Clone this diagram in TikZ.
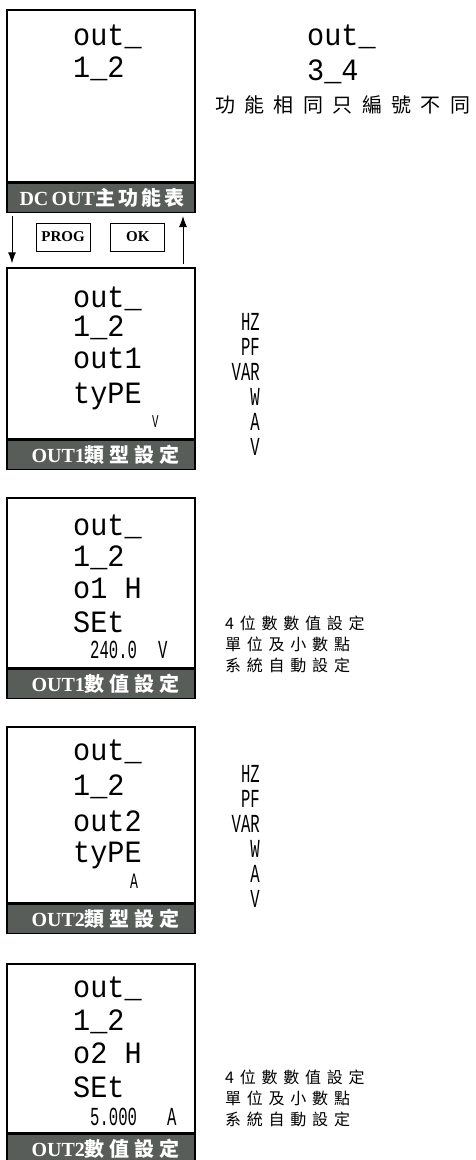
\documentclass[tikz,border=0pt]{standalone}
\usepackage{fontspec}
\usepackage{xcolor}
\setmainfont{Liberation Serif}
\newfontfamily\cjkfont{Noto Sans CJK TC}
\newfontfamily\lcdfont{Liberation Mono}[FakeStretch=0.92]
\newfontfamily\lcdnarrow{Liberation Mono}[FakeStretch=0.6]
\usepackage{tikz}
\usetikzlibrary{arrows.meta, positioning}

\definecolor{bandgray}{RGB}{88,93,90}
\newcommand{\bandcjk}[2][25]{{\cjkfont\bfseries\addfontfeature{LetterSpace=#1}#2}}

\begin{document}
\begin{tikzpicture}[
    x=1pt, y=-1pt,
    screen/.style={
      draw,
      line width=1.3pt,
      fill=white,
      minimum width=188pt,
      inner sep=0pt
    },
    band/.style={
      draw,
      line width=1.3pt,
      fill=bandgray,
      minimum width=188pt,
      minimum height=29pt,
      inner sep=0pt
    },
    bandtext/.style={
      text=white,
      inner sep=0pt,
      font=\bfseries\fontsize{20}{22}\selectfont
    },
    lcd/.style={
      anchor=base west,
      inner sep=0pt,
      font=\lcdfont\fontsize{31}{31}\selectfont
    },
    lcdsmall/.style={
      anchor=base west,
      inner sep=0pt,
      font=\lcdnarrow\fontsize{26}{26}\selectfont
    },
    unitlist/.style={
      anchor=north east,
      align=right,
      inner sep=0pt,
      font=\lcdnarrow\fontsize{26}{25}\selectfont
    },
    note/.style={
      anchor=north west,
      align=left,
      inner sep=0pt,
      font=\cjkfont\fontsize{16}{21}\selectfont\addfontfeature{LetterSpace=36}
    },
    keybox/.style={
      draw,
      line width=0.8pt,
      minimum width=54pt,
      minimum height=28pt,
      inner sep=0pt,
      font=\bfseries\fontsize{15}{15}\selectfont
    },
    arrow/.style={
      -{Latex[length=11pt, width=8pt]},
      line width=1pt
    }
  ]

    \useasboundingbox (0,0) rectangle (475,1160);

    % Main menu screen
    \node[screen, minimum height=172pt] (scr1) at (101,96) {};
    \node[band, anchor=north] (band1) at (scr1.south) {};
    \node[bandtext, right=13pt of band1.west] (title1) {DC\,OUT\bandcjk[15]{主功能表}};
    \node[lcd] (s1a) at (73,45) {out\_};
    \node[lcd] (s1b) at (73,77) {1\_2};

    % Same menu for outputs 3 and 4
    \node[lcd] (r1a) at (307,45) {out\_};
    \node[lcd] (r1b) at (307,80) {3\_4};
    \node[anchor=west, inner sep=0pt,
      font=\cjkfont\fontsize{20}{20}\selectfont\addfontfeature{LetterSpace=47}]
      (samenote) at (215,105) {功能相同只編號不同};

    % Keys
    \node[keybox] (prog) at (63,237) {PROG};
    \node[keybox, right=20pt of prog] (ok) {OK};

    % OUT1 type
    \node[screen, minimum height=171pt] (scr2) at (101,353.5) {};
    \node[band, anchor=north] (band2) at (scr2.south) {};
    \node[bandtext, right=25pt of band2.west] (title2) {OUT1\bandcjk{類型設定}};
    \node[lcd] (s2a) at (73,307) {out\_};
    \node[lcd] (s2b) at (73,336) {1\_2};
    \node[lcd] (s2c) at (73,368) {out1};
    \node[lcd] (s2d) at (73,403) {tyPE};
    \node[lcdsmall, font=\lcdnarrow\fontsize{18}{18}\selectfont] (s2e) at (152,427) {V};
    \node[unitlist] (list2) at (260,313) {HZ\\PF\\VAR\\W\\A\\V};

    % Up and down arrows
    \coordinate (dntop) at (12,216);
    \coordinate (uptop) at (183,216);
    \draw[arrow, shorten >=4pt] (dntop) -- (dntop |- scr2.north);
    \draw[arrow, shorten <=3pt] (uptop |- scr2.north) -- (uptop);

    % OUT1 value
    \node[screen, minimum height=170pt] (scr3) at (101,583) {};
    \node[band, anchor=north] (band3) at (scr3.south) {};
    \node[bandtext, right=25pt of band3.west] (title3) {OUT1\bandcjk{數值設定}};
    \node[lcd] (s3a) at (73,535) {out\_};
    \node[lcd] (s3b) at (73,566) {1\_2};
    \node[lcd] (s3c) at (73,598) {o1 H};
    \node[lcd] (s3d) at (73,632) {SEt};
    \node[lcdsmall] (s3e) at (90,658) {240.0};
    \node[lcdsmall] (s3f) at (158,658) {V};
    \node[note] (note3) at (225,616) {4位數數值設定\\單位及小數點\\系統自動設定};

    % OUT2 type
    \node[screen, minimum height=176pt] (scr4) at (101,815) {};
    \node[band, anchor=north] (band4) at (scr4.south) {};
    \node[bandtext, right=25pt of band4.west] (title4) {OUT2\bandcjk{類型設定}};
    \node[lcd] (s4a) at (73,760) {out\_};
    \node[lcd] (s4b) at (73,795) {1\_2};
    \node[lcd] (s4c) at (73,831) {out2};
    \node[lcd] (s4d) at (73,862) {tyPE};
    \node[lcdsmall, font=\lcdnarrow\fontsize{22}{22}\selectfont] (s4e) at (130,888) {A};
    \node[unitlist] (list4) at (260,765) {HZ\\PF\\VAR\\W\\A\\V};

    % OUT2 value
    \node[screen, minimum height=169pt] (scr5) at (101,1048.5) {};
    \node[band, anchor=north] (band5) at (scr5.south) {};
    \node[bandtext, right=25pt of band5.west] (title5) {OUT2\bandcjk{數值設定}};
    \node[lcd] (s5a) at (73,997) {out\_};
    \node[lcd] (s5b) at (73,1030) {1\_2};
    \node[lcd] (s5c) at (73,1063) {o2 H};
    \node[lcd] (s5d) at (73,1097) {SEt};
    \node[lcdsmall] (s5e) at (90,1125) {5.000};
    \node[lcdsmall] (s5f) at (167,1125) {A};
    \node[note] (note5) at (225,1070) {4位數數值設定\\單位及小數點\\系統自動設定};

  \end{tikzpicture}
\end{document}
